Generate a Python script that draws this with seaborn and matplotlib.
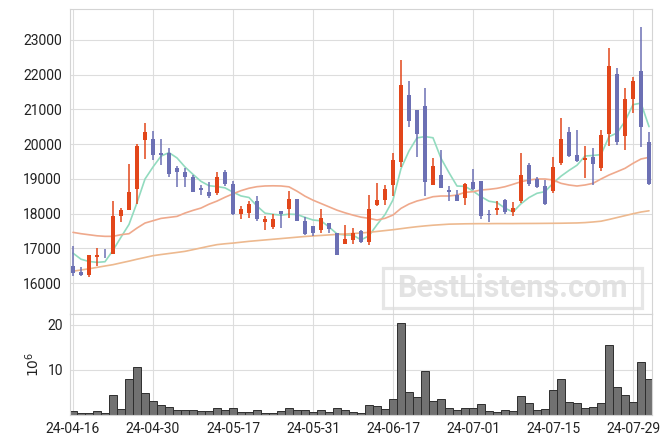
import numpy as np
import pandas as pd
import seaborn as sns
import matplotlib.pyplot as plt
from matplotlib.patches import Rectangle

# price data (KRW), 73 trading days 24-04-16 .. 24-07-31
open_ = [16500, 16317, 16222, 16739, 16960, 16835, 17919, 18092, 18715, 20105,
         20153, 19751, 19751, 19310, 19204, 19051, 18744, 18629, 18597, 19201,
         18866, 17993, 18022, 18376, 17753, 17609, 18060, 18118, 18424, 17772,
         17629, 17514, 17715, 17446, 17111, 17236, 17506, 17189, 18256, 18381,
         18810, 19498, 21408, 20997, 21093, 18810, 19116, 18686, 18543, 18447,
         18896, 18925, 17999, 18094, 18392, 18056, 18373, 19400, 18997, 18805,
         18651, 19448, 20359, 19689, 19536, 19631, 19316, 20292, 22024, 20244,
         21297, 22110, 20062]
high = [17056, 16461, 16816, 17008, 16979, 18370, 18159, 19425, 20000, 20604,
        20393, 20144, 19885, 19357, 19300, 19099, 18830, 18907, 19201, 19268,
        18933, 18214, 18357, 18520, 17926, 17974, 18070, 18645, 18434, 17897,
        17638, 18118, 17734, 17446, 17657, 17590, 17515, 18534, 18877, 18829,
        19756, 22430, 21809, 20997, 21628, 19593, 19832, 18782, 18667, 18877,
        19288, 18944, 18113, 18352, 18411, 18344, 19736, 19448, 19064, 18968,
        19621, 20744, 20493, 20416, 19938, 19890, 20416, 22761, 22206, 21631,
        21947, 23375, 20340]
low = [16193, 16193, 16174, 16480, 16720, 16835, 17756, 18092, 18283, 19568,
       19530, 19405, 19041, 18753, 18753, 18609, 18542, 18437, 18549, 18789,
       17955, 17830, 17878, 17782, 17523, 17542, 17590, 17878, 17782, 17370,
       17350, 17446, 17446, 16794, 17111, 17130, 17160, 17094, 18228, 18256,
       18495, 19336, 20482, 19641, 18514, 18810, 18734, 18371, 18352, 18256,
       18686, 17846, 17750, 17951, 17989, 17931, 18296, 18805, 18728, 18248,
       18603, 19400, 19631, 19478, 19029, 18837, 19220, 19957, 19986, 19842,
       20895, 19918, 18818]
close = [16289, 16222, 16797, 16816, 16940, 17938, 18111, 18629, 19952, 20345,
         19674, 19674, 19137, 19185, 19041, 18609, 18667, 18514, 19058, 18856,
         17993, 18118, 18290, 17830, 17830, 17830, 17993, 18434, 17782, 17418,
         17446, 17878, 17542, 16794, 17255, 17427, 17189, 18131, 18400, 18705,
         19546, 21694, 20673, 20281, 18896, 19374, 18734, 18610, 18352, 18849,
         18705, 17922, 17951, 18161, 18037, 18152, 19112, 18843, 18776, 18277,
         19352, 20139, 19670, 19526, 19603, 19430, 20263, 22254, 20053, 21297,
         21823, 20483, 18866]

# first four 5-day averages (need data before the window)
ma5_head = [16860, 16685, 16620, 16595]
ma20 = [17459, 17420, 17390, 17360, 17344, 17344, 17392, 17420, 17583, 17727,
        17794, 17861, 17890, 17919, 18015, 18092, 18159, 18270, 18360, 18470,
        18570, 18660, 18730, 18775, 18795, 18800, 18795, 18770, 18645, 18501,
        18386, 18290, 18194, 18098, 18022, 17955, 17897, 17863, 17814, 17863,
        17958, 18150, 18275, 18362, 18419, 18486, 18506, 18506, 18534, 18612,
        18630, 18679, 18698, 18727, 18774, 18843, 18918, 18967, 18996, 18996,
        18967, 18871, 18823, 18794, 18823, 18871, 18996, 19111, 19206, 19303,
        19447, 19572, 19620]
ma60 = [16340, 16375, 16410, 16450, 16490, 16528, 16580, 16630, 16685, 16735,
        16787, 16820, 16850, 16880, 16912, 16960, 17010, 17060, 17105, 17130,
        17150, 17175, 17200, 17220, 17240, 17260, 17280, 17300, 17320, 17340,
        17355, 17370, 17385, 17400, 17410, 17425, 17440, 17460, 17485, 17510,
        17535, 17565, 17595, 17622, 17645, 17665, 17680, 17695, 17700, 17705,
        17708, 17710, 17710, 17712, 17712, 17712, 17714, 17715, 17716, 17718,
        17720, 17722, 17726, 17730, 17740, 17758, 17780, 17830, 17885, 17940,
        17995, 18045, 18080]

# volume in millions
volume = [0.89, 0.37, 0.37, 0.81, 0.37, 4.37, 1.26, 7.93, 10.6, 4.81,
          3.1, 2.15, 1.7, 1.04, 1.04, 1.04, 0.81, 0.81, 1.48, 1.04,
          1.48, 0.59, 0.59, 1.04, 0.37, 0.37, 0.81, 1.48, 1.04, 1.04,
          0.59, 1.04, 0.59, 1.48, 1.04, 0.59, 0.37, 2.15, 1.93, 1.26,
          3.48, 20.37, 5.04, 3.93, 9.7, 3.04, 3.48, 1.48, 1.04, 1.48,
          1.48, 2.37, 0.81, 0.59, 1.04, 0.81, 4.15, 2.59, 1.04, 1.26,
          5.56, 7.93, 2.81, 2.59, 1.48, 1.7, 2.59, 15.5, 6.15, 4.37,
          2.81, 11.7, 7.93]

tick_labels = ["24-04-16", "24-04-30", "24-05-17", "24-05-31",
               "24-06-17", "24-07-01", "24-07-15", "24-07-29"]

df = pd.DataFrame({"open": open_, "high": high, "low": low,
                   "close": close, "ma20": ma20, "ma60": ma60, "vol": volume})
df["idx"] = np.arange(len(df))
df["ma5"] = df["close"].rolling(5).mean()
df.loc[:3, "ma5"] = ma5_head

RED = "#E2461A"
BLUE = "#6C70B4"
GRID = "#dddddd"

sns.set_theme(style="whitegrid")
plt.rcParams["font.family"] = ["Roboto", "DejaVu Sans"]
plt.rcParams["axes.edgecolor"] = "#d4d4d4"
plt.rcParams["grid.color"] = GRID
plt.rcParams["grid.linewidth"] = 0.8

W, H = 671, 444
fig = plt.figure(figsize=(W / 100, H / 100), dpi=100)
ax1 = fig.add_axes([70 / W, 1 - 314 / H, 582 / W, 305 / H])
ax2 = fig.add_axes([70 / W, 1 - 415 / H, 582 / W, 101 / H])

# candles
up = df["close"] >= df["open"]
colors = np.where(up, RED, BLUE)
ax1.vlines(df["idx"], df["low"], df["high"], colors=colors, lw=1.1, zorder=3)
body_lo = np.minimum(df["open"], df["close"])
body_h = np.maximum((df["close"] - df["open"]).abs(), 20)
ax1.bar(df["idx"], body_h, bottom=body_lo, width=0.62, color=colors,
        linewidth=0, zorder=4)

# moving averages
sns.lineplot(data=df, x="idx", y="ma5", ax=ax1, color="#92DBBF", lw=1.2, zorder=2)
sns.lineplot(data=df, x="idx", y="ma20", ax=ax1, color="#EFA98C", lw=1.2, zorder=2)
sns.lineplot(data=df, x="idx", y="ma60", ax=ax1, color="#EDB98F", lw=1.2, zorder=2)

ax1.set_xlim(-0.375, 72.375)
ax1.set_ylim(15107, 23893)
ax1.set_yticks(range(16000, 24000, 1000))
ax1.set_xticks(range(0, 73, 10))
ax1.set_xticklabels([])
ax1.set_xlabel("")
ax1.set_ylabel("")
ax1.tick_params(axis="both", length=0, labelsize=10, labelcolor="#222222", pad=6)

# watermark
ax1.add_patch(Rectangle((0.538, 0.02), 0.445, 0.131, transform=ax1.transAxes,
                        fill=False, edgecolor="#e6e6e6", lw=2.3, zorder=0.1))
ax1.text(0.7605, 0.085, "BestListens.com", transform=ax1.transAxes,
         ha="center", va="center", fontsize=22, fontweight="bold",
         family="Roboto", color="#e3e3e3", zorder=0.1)

# volume
sns.barplot(data=df, x="idx", y="vol", ax=ax2, color="#717171", width=1.0,
            saturation=1, edgecolor="#2e2e2e", linewidth=0.7, native_scale=True)
ax2.set_xlim(-0.375, 72.375)
ax2.set_ylim(0, 22.4)
ax2.set_yticks([10, 20])
ax2.set_xticks(range(0, 73, 10))
ax2.set_xticklabels(tick_labels)
ax2.set_xlabel("")
ax2.set_ylabel("$10^6$", fontsize=10, color="#222222", labelpad=4)
ax2.tick_params(axis="both", length=0, labelsize=10, labelcolor="#222222", pad=5)

for ax in (ax1, ax2):
    ax.set_axisbelow(True)
    for s in ax.spines.values():
        s.set_color("#d4d4d4")
        s.set_linewidth(0.8)

fig.savefig("out.png", dpi=100)
